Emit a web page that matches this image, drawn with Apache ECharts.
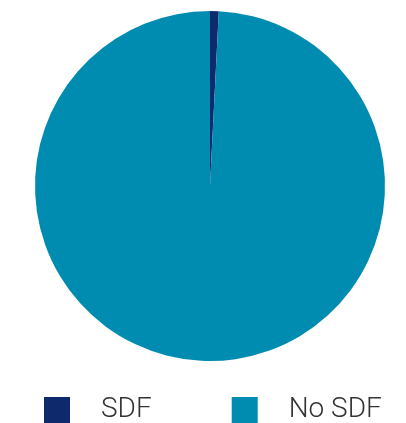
<!DOCTYPE html>
<html>
<head>
<meta charset="utf-8">
<script src="https://cdn.jsdelivr.net/npm/echarts@6/dist/echarts.min.js"></script>
<style>
  html, body { margin: 0; padding: 0; background: #fff; }
  #chart { width: 406px; height: 423px; }
</style>
</head>
<body>
<div id="chart"></div>
<script>
// 数据
const categories = ['SDF', 'No SDF']
const values = [0.8, 99.2]
const colors = ['#0f2a6c', '#008bb1']

let data = []
for (let i = 0; i < categories.length; i++)
    data.push({ name: categories[i], value: values[i], itemStyle: { color: colors[i] } })

let option = {
    animation: false,
    legend: {
        data: categories,
        left: 44,
        top: 396,
        padding: 0,
        itemWidth: 26,
        itemHeight: 26,
        itemGap: 80,
        icon: 'rect',
        textStyle: {
            fontFamily: 'Roboto',
            fontWeight: 300,
            fontSize: 28,
            color: '#333',
            padding: [0, 0, 0, 26]
        }
    },
    series: [
        {
            type: 'pie',
            center: [210, 186],
            radius: [0, 175],
            startAngle: 90,
            clockwise: true,
            label: { show: false },
            labelLine: { show: false },
            data: data
        }
    ]
}
let chartDom = echarts.init(document.querySelector('#chart'))
chartDom.setOption(option)
</script>
</body>
</html>
